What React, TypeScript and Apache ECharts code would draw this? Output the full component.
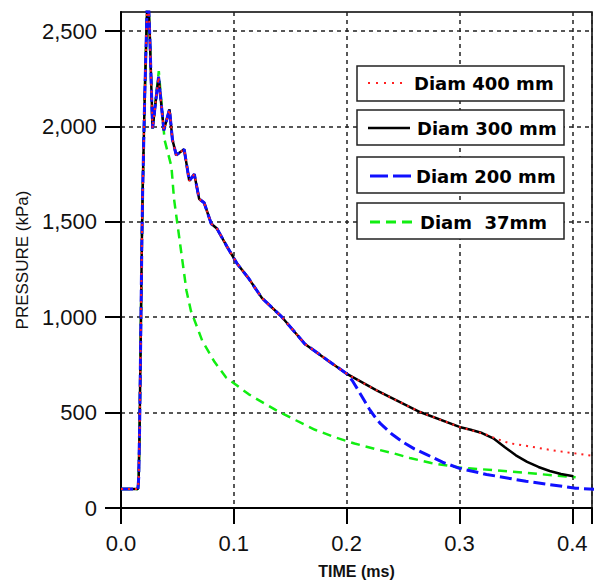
import React, { useEffect, useRef } from "react";
import * as echarts from "echarts";

// Shared initial shock rise (all diameters)
const commonRise: [number, number][] = [
  [0, 100], [0.015, 100], [0.0157, 160], [0.0165, 420], [0.0175, 900],
  [0.0185, 1400], [0.0192, 1660], [0.021, 2150], [0.0237, 2750],
  [0.0255, 2480], [0.028, 1990],
];

// Shared decay for 400 / 300 / 200 mm up to ~0.2 ms
const mainDecay: [number, number][] = [
  [0.0333, 2260], [0.038, 1980], [0.043, 2090], [0.0456, 1930], [0.049, 1850],
  [0.056, 1880], [0.0605, 1715], [0.065, 1750], [0.0693, 1620], [0.0737, 1600],
  [0.08, 1490], [0.085, 1465], [0.094, 1370], [0.103, 1280], [0.113, 1205],
  [0.125, 1100], [0.142, 1005], [0.163, 860], [0.183, 775], [0.201, 700],
];

const tail400: [number, number][] = [
  [0.227, 615], [0.265, 503], [0.3, 425], [0.315, 400], [0.324, 384],
  [0.334, 360], [0.344, 340], [0.36, 325], [0.38, 305], [0.4, 288], [0.42, 272],
];
const tail300: [number, number][] = [
  [0.227, 615], [0.265, 503], [0.3, 425], [0.31, 410], [0.32, 393],
  [0.33, 365], [0.34, 320], [0.35, 276], [0.36, 242], [0.37, 215],
  [0.38, 194], [0.39, 178], [0.401, 166],
];
const tail200: [number, number][] = [
  [0.205, 668], [0.21, 620], [0.215, 570], [0.22, 520], [0.225, 478],
  [0.23, 442], [0.24, 388], [0.25, 345], [0.26, 310], [0.271, 280],
  [0.285, 240], [0.3, 208], [0.324, 176], [0.359, 140], [0.403, 104], [0.42, 98],
];
const tail37: [number, number][] = [
  [0.0335, 2290], [0.0386, 1930], [0.0447, 1790], [0.047, 1620], [0.0525, 1380],
  [0.058, 1140], [0.062, 1033], [0.072, 877], [0.083, 765], [0.093, 685],
  [0.113, 597], [0.137, 514], [0.155, 460], [0.172, 410], [0.19, 370],
  [0.207, 338], [0.225, 310], [0.242, 286], [0.256, 262], [0.275, 236],
  [0.3, 212], [0.344, 192], [0.403, 161],
];

const diam400 = [...commonRise, ...mainDecay, ...tail400];
const diam300 = [...commonRise, ...mainDecay, ...tail300];
const diam200 = [...commonRise, ...mainDecay, ...tail200];
const diam37 = [...commonRise, ...tail37];

const yTicks = [0, 500, 1000, 1500, 2000, 2500];
const legendNames = ["Diam 400 mm", "Diam 300 mm", "Diam 200 mm", "Diam  37mm"];

export default function App() {
  const ref = useRef<HTMLDivElement>(null);
  useEffect(() => {
    if (!ref.current) return;
    const chart = echarts.init(ref.current, undefined, { renderer: "svg" });
    const dashGrid = { color: "#222", width: 1.5, type: [4, 4] as number[] };
    const legendBoxes = [
      { y: 66, h: 35, ty: 83, tx: 414, color: "#ff2020", w: 2, dash: [2, 6], lx1: 368, lx2: 405 },
      { y: 110, h: 35, ty: 128, tx: 417, color: "#000", w: 2.5, dash: null, lx1: 368, lx2: 410 },
      { y: 157, h: 36, ty: 176, tx: 416, color: "#1010ff", w: 3, dash: [18, 5], lx1: 370, lx2: 412 },
      { y: 203, h: 36, ty: 222, tx: 420, color: "#11ee11", w: 3, dash: [10, 6], lx1: 370, lx2: 412 },
    ];
    const graphics: any[] = [];
    legendBoxes.forEach((b, i) => {
      graphics.push({
        type: "rect", z: 100,
        shape: { x: 357, y: b.y, width: 207, height: b.h },
        style: { fill: "#fff", stroke: "#222", lineWidth: 1.5 },
      });
      graphics.push({
        type: "line", z: 101,
        shape: { x1: b.lx1, y1: b.ty, x2: b.lx2, y2: b.ty },
        style: { stroke: b.color, lineWidth: b.w, lineDash: b.dash || undefined },
      });
      graphics.push({
        type: "text", z: 101,
        style: {
          text: legendNames[i], x: b.tx, y: b.ty, fill: "#000",
          font: 'bold 18px "DejaVu Sans"', verticalAlign: "middle", align: "left",
        },
      });
    });
    chart.setOption({
      animation: false,
      backgroundColor: "#fff",
      grid: {
        left: 121, top: 12, right: -2, bottom: 72,
        show: true, borderColor: "#000", borderWidth: 1.5,
      },
      xAxis: {
        type: "value", min: 0, max: 0.4175, interval: 0.1,
        name: "TIME (ms)", nameLocation: "middle", nameGap: 55,
        nameTextStyle: { fontFamily: "Liberation Sans", fontSize: 16, fontWeight: "bold", color: "#111" },
        axisLine: { lineStyle: { color: "#000", width: 2 } },
        axisTick: { length: 16, lineStyle: { color: "#000", width: 2 } },
        axisLabel: {
          fontFamily: "Liberation Sans", fontSize: 22, color: "#111", margin: 24,
          formatter: (v: number) => (Math.abs(v * 10 - Math.round(v * 10)) < 1e-6 ? v.toFixed(1) : ""),
        },
        splitLine: { show: true, lineStyle: dashGrid },
      },
      yAxis: {
        type: "value", min: 0, max: 2600, interval: 500,
        name: "PRESSURE (kPa)", nameLocation: "middle", nameGap: 85,
        nameTextStyle: { fontFamily: "Liberation Sans", fontSize: 17, color: "#111" },
        axisLine: { show: true, lineStyle: { color: "#000", width: 2 } },
        axisTick: { show: true, length: 16, lineStyle: { color: "#000", width: 2 }, customValues: yTicks },
        axisLabel: {
          fontFamily: "Liberation Sans", fontSize: 22, color: "#111", margin: 24,
          customValues: yTicks,
          formatter: (v: number) => (v >= 2600 ? "" : v.toLocaleString("en-US")),
        },
        splitLine: { show: true, lineStyle: dashGrid },
      },
      series: [
        {
          name: "Diam  37mm", type: "line", data: diam37, showSymbol: false, symbol: "none",
          lineStyle: { color: "#11ee11", width: 2.5, type: [9, 6] },
        },
        {
          name: "Diam 300 mm", type: "line", data: diam300, showSymbol: false, symbol: "none",
          lineStyle: { color: "#000", width: 2.5 },
        },
        {
          name: "Diam 200 mm", type: "line", data: diam200, showSymbol: false, symbol: "none",
          lineStyle: { color: "#1010ff", width: 3, type: [12, 5] },
        },
        {
          name: "Diam 400 mm", type: "line", data: diam400, showSymbol: false, symbol: "none",
          lineStyle: { color: "#ff2020", width: 2, type: [2, 5] },
        },
      ],
      graphic: graphics,
    });
    return () => chart.dispose();
  }, []);
  return (
    <div
      ref={ref}
      style={{ position: "fixed", left: 0, top: 0, width: 595, height: 584 }}
    />
  );
}
